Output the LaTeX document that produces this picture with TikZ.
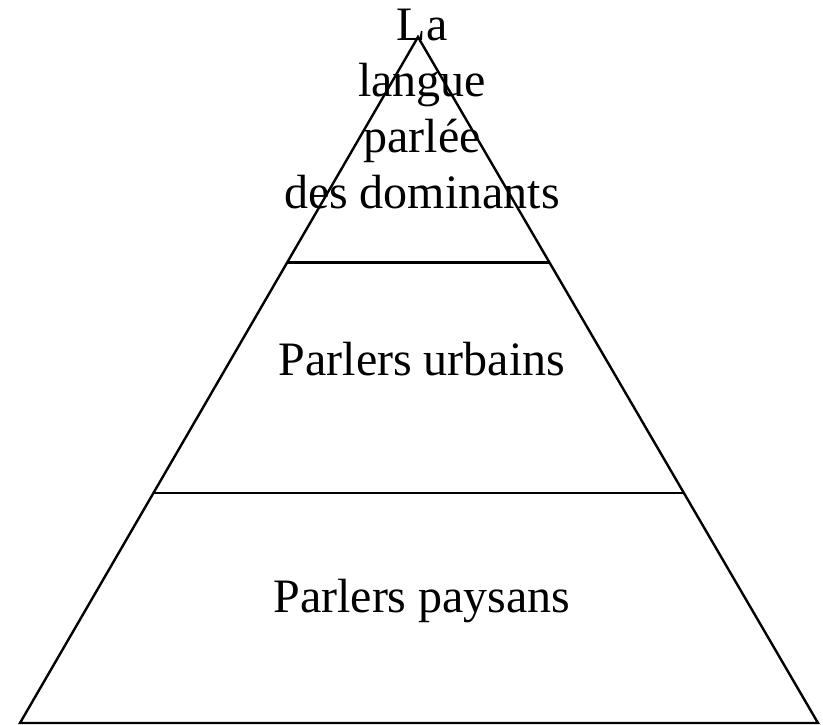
\documentclass[tikz,border=0pt]{standalone}
\usepackage{fontspec}
\setmainfont{Liberation Serif}
\usetikzlibrary{calc}
\begin{document}
\begin{tikzpicture}[x=1pt,y=-1pt]
	\tikzstyle{every node}+=[inner sep=0pt]
	\tikzstyle{tier}=[font=\fontsize{48}{56}\selectfont, align=center, anchor=base]
	\tikzstyle{edge}=[black, line width=2.4pt]
	\useasboundingbox (0,0) rectangle (823,725);
	\coordinate (apex) at (418,37);
	\coordinate (bl) at (20,723);
	\coordinate (br) at (818,723);
	\draw [edge] (apex) -- (bl) -- (br) -- cycle;
	\coordinate (upl) at ($(apex)!0.329!(bl)$);
	\coordinate (upr) at ($(apex)!0.329!(br)$);
	\coordinate (lowl) at ($(apex)!0.665!(bl)$);
	\coordinate (lowr) at ($(apex)!0.665!(br)$);
	\draw [edge] (upl) -- (upr);
	\draw [edge] (lowl) -- (lowr);
	\node [tier] (top) at (422,208) {La\\langue\\parlée\\des dominants};
	\node [tier] (urbain) at (422,375) {Parlers urbains};
	\node [tier] (paysan) at (422,612) {Parlers paysans};
\end{tikzpicture}
\end{document}
